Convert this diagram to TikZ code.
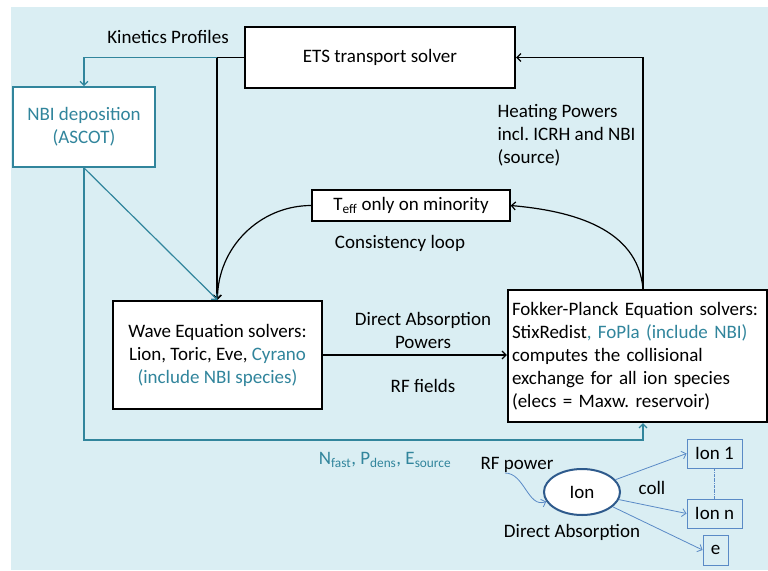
\documentclass[tikz,border=0pt]{standalone}
\usepackage{fontspec}
\setmainfont{Carlito}
\usetikzlibrary{positioning,arrows.meta,shapes.geometric}
\definecolor{bgaqua}{HTML}{DAEEF3}
\definecolor{aquadark}{HTML}{31859C}
\definecolor{ionblue}{HTML}{5A8AC6}
\definecolor{ionedge}{HTML}{2E5A8C}
\frenchspacing

\begin{document}
\begin{tikzpicture}[x=1pt,y=-1pt,
   every node/.style={font=\fontsize{19}{23}\selectfont, align=center},
   solver/.style={draw, line width=2.2pt, fill=white},
   nbibox/.style={draw=aquadark, line width=1.8pt, fill=white, text=aquadark},
   flow/.style={line width=1.2pt, -{Straight Barb[length=4pt,width=8pt]}},
   aquaflow/.style={flow, draw=aquadark},
   ionflow/.style={draw=ionblue, line width=0.8pt, -{Straight Barb[length=4pt,width=8pt]}},
   ionbox/.style={draw=ionblue, line width=0.9pt}]

\useasboundingbox (0,0) rectangle (768,570);
\fill[bgaqua] (11,7) rectangle (768,570);

\node[solver, minimum width=270, minimum height=61] (ets) at (380,57.5) {ETS transport solver};
\node[nbibox, minimum width=142, minimum height=80] (nbi) at (84,127) {NBI deposition\\(ASCOT)};
\node[draw, line width=1.3pt, fill=white, minimum width=198, minimum height=31] (teff) at (411,205.5)
   {T\textsubscript{eff} only on minority};
\node[solver, minimum width=209, minimum height=108] (wave) at (217.5,355)
   {Wave Equation solvers:\\Lion, Toric, Eve, \textcolor{aquadark}{Cyrano}\\\textcolor{aquadark}{(include NBI species)}};
\node[solver, text width=251, inner xsep=4, minimum height=132, align=left] (fp) at (637.5,356)
   {Fokker-Planck Equation solvers:\\StixRedist\textcolor{aquadark}{, FoPla (include NBI)}\\computes the collisional\\exchange for all ion species\\(elecs = Maxw. reservoir)};

\node (kinlab) at (168,37) {Kinetics Profiles};
\node[anchor=west, align=left] (heatlab) at (494,135) {Heating Powers\\incl. ICRH and NBI\\(source)};
\node (looplab) at (400,243) {Consistency loop};
\node (dalab) at (423,330) {Direct Absorption\\Powers};
\node (rflab) at (423,386) {RF fields};
\node[text=aquadark] (srclab) at (385,460) {N\textsubscript{fast}, P\textsubscript{dens}, E\textsubscript{source}};

\coordinate (kin) at (217,57.5);
\coordinate (srcbend) at (643,440);
\draw[flow] (ets.west) -- (kin) -- (kin |- wave.north);
\draw[aquaflow] (kin) -| (nbi.north);
\draw[flow] ([xshift=5.5pt]fp.north) |- (ets.east);
\draw[flow] ([xshift=5.5pt]fp.north) to[out=95,in=-5] (teff.east);
\draw[flow] (teff.west) to[out=180,in=90] (wave.north);
\draw[aquaflow] (nbi.south) -- (wave.north);
\draw[aquaflow] (nbi.south) |- (srcbend) -- ([xshift=5.5pt]fp.south);
\draw[flow] (wave.east) -- (wave.east -| fp.west);

\node[ellipse, draw=ionedge, line width=2pt, fill=white, minimum width=76, minimum height=46] (ion) at (582,492) {Ion};
\node[ionbox, minimum width=55, minimum height=29] (ion1) at (714.5,453.5) {Ion 1};
\node[ionbox, minimum width=55, minimum height=29] (ionn) at (714.5,513.5) {Ion n};
\node[ionbox, minimum width=25, minimum height=30] (elec) at (715.5,550) {e};
\node (rfpow) at (517,465) {RF power};
\node (colllab) at (652,488) {coll};
\node (dirabs) at (572,532) {Direct Absorption};
\coordinate (rfin) at (505,473);

\draw[ionflow] (rfin) to[out=0,in=200] (ion.195);
\draw[ionflow] (ion) -- (ion1.west);
\draw[ionflow] (ion) -- (ionn.west);
\draw[ionflow] (ion) -- (elec.west);
\draw[ionblue, line width=0.5pt, densely dashdotted] (ion1.south) -- (ionn.north);

\end{tikzpicture}
\end{document}
